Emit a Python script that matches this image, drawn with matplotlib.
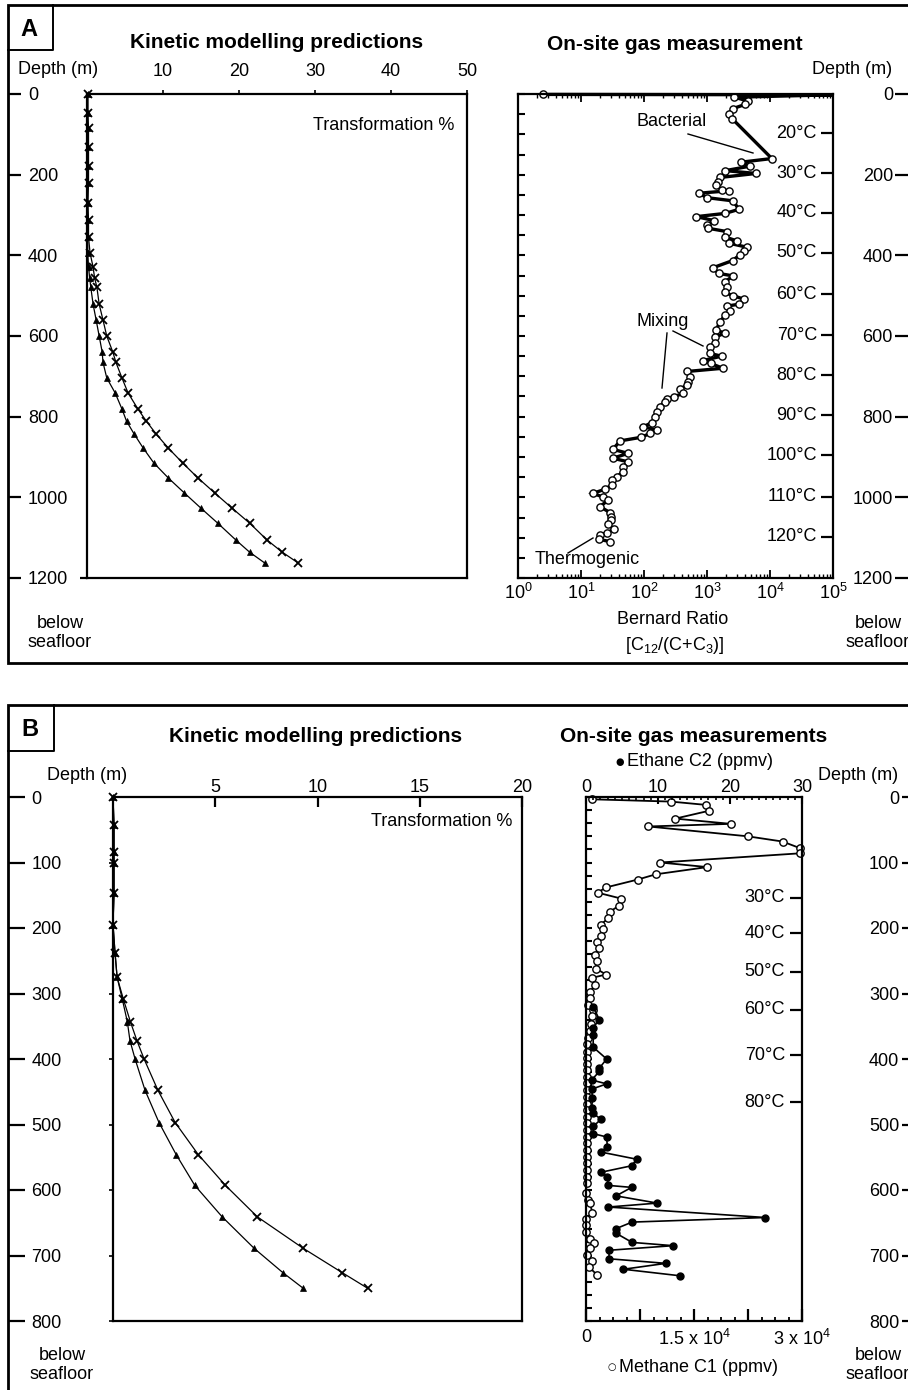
import matplotlib
matplotlib.use("Agg")
import matplotlib.pyplot as plt
import matplotlib.ticker as mticker

plt.rcParams["font.family"] = ["Liberation Sans", "DejaVu Sans"]
plt.rcParams["mathtext.fontset"] = "custom"
plt.rcParams["mathtext.rm"] = "Liberation Sans"
plt.rcParams["mathtext.it"] = "Liberation Sans:italic"
plt.rcParams["mathtext.bf"] = "Liberation Sans:bold"

# ---------------- data ----------------
# Panel A, kinetic modelling (transformation %, depth m)
kinA_depth = [0, 47, 84, 131, 179, 221, 270, 312, 355, 394, 429, 456, 479, 521, 560,
              600, 640, 665, 704, 741, 781, 811, 843, 878, 915, 952, 989, 1027, 1064,
              1106, 1136, 1163]
kinA_cross = [0.1, 0.1, 0.2, 0.2, 0.2, 0.2, 0.1, 0.2, 0.2, 0.4, 0.8, 1.0, 1.3, 1.6, 2.1,
              2.6, 3.4, 3.8, 4.6, 5.4, 6.7, 7.8, 9.1, 10.7, 12.6, 14.6, 16.8, 19.1, 21.4,
              23.7, 25.7, 27.8]
kinA_tri = [0.1, 0.1, 0.1, 0.1, 0.1, 0.1, 0.1, 0.1, 0.1, 0.1, 0.2, 0.35, 0.5, 0.8, 1.2,
            1.6, 2.0, 2.1, 2.6, 3.7, 4.6, 5.2, 6.2, 7.4, 8.8, 10.7, 12.8, 15.0, 17.2,
            19.6, 21.4, 23.4]

# Panel A, Bernard ratio profile (depth m, ratio); 1e5 = off-scale value at the top
bern_depth = [1, 2, 8, 17, 26, 36, 49, 61, 160, 169, 179, 190, 197, 207, 217, 226, 238,
              240, 246, 257, 265, 286, 296, 304, 314, 325, 333, 341, 354, 364, 370, 380,
              389, 399, 413, 431, 445, 451, 465, 478, 492, 500, 509, 521, 526, 537, 548,
              565, 585, 593, 603, 617, 627, 643, 650, 661, 668, 680, 688, 701, 713, 721,
              732, 742, 751, 755, 763, 775, 788, 802, 815, 825, 833, 841, 851, 860, 881,
              891, 903, 912, 924, 936, 949, 957, 969, 980, 990, 999, 1007, 1023, 1038,
              1048, 1056, 1066, 1079, 1088, 1093, 1104, 1110]
bern_ratio = [2.5, 1e5, 2700, 4400, 4000, 2600, 2200, 2500, 10700, 3500, 4800, 1950, 6000,
              1600, 1500, 1400, 1700, 2200, 740, 1000, 2600, 3200, 1950, 680, 1300, 1000,
              1050, 2050, 1900, 2950, 2250, 4350, 3800, 3300, 2550, 1230, 1550, 2600, 1950,
              2050, 1900, 2600, 3900, 3250, 2050, 2350, 1950, 1600, 1400, 1900, 1350, 1350,
              1120, 1100, 1700, 850, 1150, 1780, 480, 540, 500, 490, 370, 420, 295, 230,
              215, 178, 158, 148, 132, 98, 158, 126, 91, 42, 32, 56, 32, 56, 47, 47, 37,
              31, 31, 24, 15.5, 22, 27, 20, 29, 29.5, 29.5, 27, 33, 26, 20, 19.5, 29]
tempA_depth = [97, 196, 295, 394, 496, 598, 697, 797, 896, 998, 1098]
tempA_label = [20, 30, 40, 50, 60, 70, 80, 90, 100, 110, 120]

# Panel B, kinetic modelling
kinB_depth = [0, 43, 84, 101, 147, 195, 238, 275, 308, 343, 372, 400, 448, 497, 546, 593,
              641, 689, 726, 750]
kinB_cross = [0.0, 0.05, 0.05, 0.05, 0.05, 0.0, 0.1, 0.2, 0.5, 0.85, 1.17, 1.52, 2.2, 3.04,
              4.17, 5.5, 7.06, 9.3, 11.2, 12.45]
kinB_tri = [0.0, 0.05, 0.05, 0.05, 0.05, 0.0, 0.1, 0.2, 0.45, 0.7, 0.83, 1.08, 1.57, 2.25,
            3.09, 4.0, 5.34, 6.9, 8.3, 9.3]

# Panel B, methane C1 (ppmv)
meth_depth = [3.5, 7, 12, 21, 33, 41, 45, 60, 68, 78, 86, 100, 107, 118, 126, 138, 146, 155,
              166, 175, 185, 195, 202, 212, 222, 231, 241, 251, 262, 271, 276, 287, 297,
              307, 318, 325, 335, 347, 358, 368, 377, 389, 399, 407, 417, 427, 437, 447,
              458, 468, 478, 488, 498, 508, 519, 529, 539, 549, 559, 569, 580, 590, 605,
              615, 620, 635, 645, 653, 664, 675, 681, 689, 699, 708, 718, 730]
meth_val = [790, 11800, 16600, 17100, 12400, 20100, 8650, 22450, 27300, 29700, 29700, 10300,
            16850, 9700, 7200, 2800, 1600, 4860, 4580, 3330, 3100, 2040, 2300, 2080, 1480,
            1760, 1250, 1480, 1390, 2780, 880, 1250, 560, 560, 320, 1020, 900, 700, 560,
            300, 100, 100, 150, 100, 80, 80, 80, 80, 80, 100, 100, 100, 80, 80, 80, 80, 80,
            80, 80, 80, 80, 80, 0, 320, 560, 880, 0, 0, 0, 560, 1110, 560, 190, 790, 460,
            1570]

# Panel B, ethane C2 (ppmv)
eth_depth = [320, 340, 352, 363, 382, 400, 414, 419, 432, 438, 446, 460, 475, 483, 492, 503,
             514, 519, 534, 542, 553, 563, 573, 580, 593, 596, 609, 620, 626, 642, 649, 659,
             666, 680, 685, 692, 705, 712, 721, 731]
eth_val = [1.0, 1.85, 1.0, 1.0, 1.0, 2.87, 1.85, 1.85, 0.79, 2.87, 0.79, 0.9, 0.79, 1.0,
           2.08, 1.0, 1.0, 2.87, 2.96, 2.04, 7.04, 6.34, 2.04, 2.96, 3.1, 6.34, 4.17, 9.9,
           3.1, 24.9, 6.4, 4.17, 4.17, 6.4, 12.1, 3.2, 3.2, 11.1, 5.2, 13.1]
tempB_depth = [154, 208, 267, 325, 394, 466]
tempB_label = [30, 40, 50, 60, 70, 80]

# ---------------- figure ----------------
W, H = 908, 1390
fig = plt.figure(figsize=(W / 100, H / 100), dpi=100, facecolor="white")


def box(x0, y0, x1, y1):
    return [x0 / W, 1 - y1 / H, (x1 - x0) / W, (y1 - y0) / H]


bg = fig.add_axes([0, 0, 1, 1])
bg.set_xlim(0, W)
bg.set_ylim(H, 0)
bg.axis("off")

FS = 13
# panel frames and letter boxes
bg.plot([915, 8, 8, 915], [5, 5, 663, 663], color="black", lw=2.0, solid_joinstyle="miter")
bg.plot([8, 53, 53], [50, 50, 5], color="black", lw=1.4)
bg.text(29, 30, "A", fontsize=17, fontweight="bold", ha="center", va="center")
bg.plot([915, 8, 8], [705, 705, 1395], color="black", lw=2.0, solid_joinstyle="miter")
bg.plot([8, 54, 54], [751, 751, 705], color="black", lw=1.4)
bg.text(30, 729, "B", fontsize=17, fontweight="bold", ha="center", va="center")

# titles and labels
bg.text(277, 43, "Kinetic modelling predictions", fontsize=15, fontweight="bold",
        ha="center", va="center")
bg.text(675, 44, "On-site gas measurement", fontsize=15, fontweight="bold",
        ha="center", va="center")
bg.text(316, 737, "Kinetic modelling predictions", fontsize=15, fontweight="bold",
        ha="center", va="center")
bg.text(694, 737, "On-site gas measurements", fontsize=15, fontweight="bold",
        ha="center", va="center")

bg.text(18, 70, "Depth (m)", fontsize=FS, ha="left", va="center")
bg.text(892, 70, "Depth (m)", fontsize=FS, ha="right", va="center")
bg.text(47, 776, "Depth (m)", fontsize=FS, ha="left", va="center")
bg.text(898, 776, "Depth (m)", fontsize=FS, ha="right", va="center")

for x, y in [(60, 633), (878, 633), (62, 1365), (878, 1365)]:
    bg.text(x, y, "below\nseafloor", fontsize=FS, ha="center", va="center",
            linespacing=1.1)

bg.text(454, 126, "Transformation %", fontsize=FS, ha="right", va="center")
bg.text(512, 822, "Transformation %", fontsize=FS, ha="right", va="center")

bg.text(673, 620, "Bernard Ratio", fontsize=FS, ha="center", va="center")
bg.text(675, 646, r"[C$_{12}$/(C+C$_3$)]", fontsize=FS, ha="center", va="center")

# annotation leaders on the Bernard plot
bg.text(672, 121, "Bacterial", fontsize=FS, ha="center", va="center")
bg.plot([688, 753], [134, 153], color="black", lw=1.0)
bg.text(663, 322, "Mixing", fontsize=FS, ha="center", va="center")
bg.plot([667, 662], [333, 388], color="black", lw=1.0)
bg.plot([673, 703], [331, 346], color="black", lw=1.0)
bg.text(587, 560, "Thermogenic", fontsize=FS, ha="center", va="center")
bg.plot([568, 593], [553, 538], color="black", lw=1.0)

# legend entries of panel B gas plot
bg.text(620, 762, "\u25CF", fontsize=7, family="DejaVu Sans", ha="center", va="center")
bg.text(627, 762, "Ethane C2 (ppmv)", fontsize=FS, ha="left", va="center")
bg.text(612, 1367, "\u25CB", fontsize=7, family="DejaVu Sans", ha="center", va="center")
bg.text(619, 1367, "Methane C1 (ppmv)", fontsize=FS, ha="left", va="center")


def depth_axis(rect, dmax, step, side, length, pad):
    a = fig.add_axes(rect)
    a.patch.set_visible(False)
    a.set_ylim(dmax, 0)
    for s in a.spines.values():
        s.set_visible(False)
    a.set_xticks([])
    a.set_yticks(range(0, dmax + 1, step))
    if side == "right":
        a.yaxis.tick_right()
    a.tick_params(axis="y", direction="out", length=length, width=1.6, pad=pad,
                  labelsize=FS)
    return a


depth_axis(box(0, 94, 8, 578), 1200, 200, "right", 9.4, 5)
depth_axis(box(910, 94, 911, 578), 1200, 200, "left", 10.8, 1.5)
depth_axis(box(0, 797, 8, 1321), 800, 100, "right", 12, 5)
depth_axis(box(912, 797, 913, 1321), 800, 100, "left", 7.2, 2)


def style_spines(a, lw=1.6):
    for s in a.spines.values():
        s.set_linewidth(lw)


# ---- Panel A kinetic ----
axA = fig.add_axes(box(87, 94, 467, 578))
axA.patch.set_visible(False)
axA.set_xlim(0, 50)
axA.set_ylim(1200, 0)
style_spines(axA)
axA.xaxis.tick_top()
axA.set_xticks([10, 20, 30, 40, 50])
axA.tick_params(axis="x", direction="out", length=3, width=1.2, pad=7, labelsize=FS)
axA.set_yticks([1200])
axA.tick_params(axis="y", direction="out", length=5, width=1.6, labelleft=False)
axA.plot(kinA_cross, kinA_depth, color="black", lw=0.9, marker="x", ms=6, mew=1.3,
         clip_on=False)
axA.plot(kinA_tri, kinA_depth, color="black", lw=0.9, marker="^", ms=5, mew=0.5,
         clip_on=False)

# ---- Panel A Bernard ratio ----
axR = fig.add_axes(box(518, 94, 833, 578))
axR.patch.set_visible(False)
axR.set_xscale("log")
axR.set_xlim(1, 1e5)
axR.set_ylim(1200, 0)
style_spines(axR)
axR.set_xticks([1, 10, 100, 1e3, 1e4, 1e5])
axR.set_xticklabels([r"$\mathregular{10^{%d}}$" % k for k in range(6)])
axR.xaxis.set_minor_locator(mticker.LogLocator(base=10, subs=range(2, 10), numticks=20))
axR.xaxis.set_minor_formatter(mticker.NullFormatter())
axR.tick_params(axis="x", which="major", direction="in", top=True, bottom=True,
                length=5.8, width=1.3, pad=3.5, labelsize=FS)
axR.tick_params(axis="x", which="minor", direction="in", top=True, bottom=True,
                length=3, width=1.0)
axR.set_yticks(range(0, 1201, 50))
axR.tick_params(axis="y", direction="in", length=5, width=1.5, labelleft=False)
# the off-scale value (index 1) is drawn as line only, no marker
bern_marks = [i for i in range(len(bern_ratio)) if i != 1]
axR.plot(bern_ratio, bern_depth, color="black", lw=2.4, solid_joinstyle="miter",
         marker="o", ms=5.2, mfc="white", mec="black", mew=1.0, markevery=bern_marks,
         clip_on=False)
tA = axR.twinx()
tA.set_ylim(1200, 0)
tA.set_yticks(tempA_depth)
tA.tick_params(axis="y", direction="in", length=8.5, width=1.6, labelright=False)
for s in tA.spines.values():
    s.set_visible(False)
for d, t in zip(tempA_depth, tempA_label):
    axR.text(0.949, d, f"{t}\u00b0C", transform=axR.get_yaxis_transform(),
             ha="right", va="center", fontsize=FS)

# ---- Panel B kinetic ----
axB = fig.add_axes(box(113, 797, 522, 1321))
axB.patch.set_visible(False)
axB.set_xlim(0, 20)
axB.set_ylim(800, 0)
style_spines(axB)
axB.xaxis.tick_top()
axB.set_xticks([5, 10, 15, 20])
axB.tick_params(axis="x", direction="in", length=7, width=1.6, pad=1, labelsize=FS)
axB.set_yticks(range(100, 801, 100))
axB.tick_params(axis="y", direction="out", length=3, width=1.2, labelleft=False)
axB.plot(kinB_cross, kinB_depth, color="black", lw=0.9, marker="x", ms=6, mew=1.3,
         clip_on=False)
axB.plot(kinB_tri, kinB_depth, color="black", lw=0.9, marker="^", ms=5, mew=0.5,
         clip_on=False)

# ---- Panel B gas measurements ----
axG = fig.add_axes(box(586, 797, 802, 1321))
axG.patch.set_visible(False)
axG.set_xlim(0, 30000)
axG.set_ylim(800, 0)
style_spines(axG)
axG.set_xticks([0, 7500, 15000, 22500, 30000])
axG.set_xticklabels(["0", "", "1.5 x 10$^{4}$", "", "3 x 10$^{4}$"])
axG.xaxis.set_minor_locator(mticker.MultipleLocator(1875))
axG.tick_params(axis="x", which="major", direction="in", top=False, length=8.6,
                width=1.6, pad=6, labelsize=FS)
axG.tick_params(axis="x", which="minor", direction="in", top=False, length=3,
                width=1.3)
axG.set_yticks(range(0, 801, 20))
axG.tick_params(axis="y", direction="in", length=4.3, width=1.5, labelleft=False)
axG.plot(meth_val, meth_depth, color="black", lw=1.3, solid_joinstyle="miter",
         marker="o", ms=5.3, mfc="white", mec="black", mew=1.0, clip_on=False)

axE = axG.twiny()
axE.set_xlim(0, 30)
for s in axE.spines.values():
    s.set_visible(False)
axE.set_xticks([0, 10, 20, 30])
axE.xaxis.set_minor_locator(mticker.MultipleLocator(1))
axE.tick_params(axis="x", which="major", direction="in", length=5, width=1.5, pad=1,
                labelsize=FS)
axE.tick_params(axis="x", which="minor", direction="in", length=2.5, width=1.2)
axE.plot(eth_val, eth_depth, color="black", lw=1.2, solid_joinstyle="miter",
         marker="o", ms=5, mfc="black", mec="black", clip_on=False)

tB = axG.twinx()
tB.set_ylim(800, 0)
tB.set_yticks(tempB_depth)
tB.tick_params(axis="y", direction="in", length=8.5, width=1.6, labelright=False)
for s in tB.spines.values():
    s.set_visible(False)
for d, t in zip(tempB_depth, tempB_label):
    axG.text(0.921, d, f"{t}\u00b0C", transform=axG.get_yaxis_transform(),
             ha="right", va="center", fontsize=FS)

fig.savefig("out.png", dpi=100, facecolor="white")
